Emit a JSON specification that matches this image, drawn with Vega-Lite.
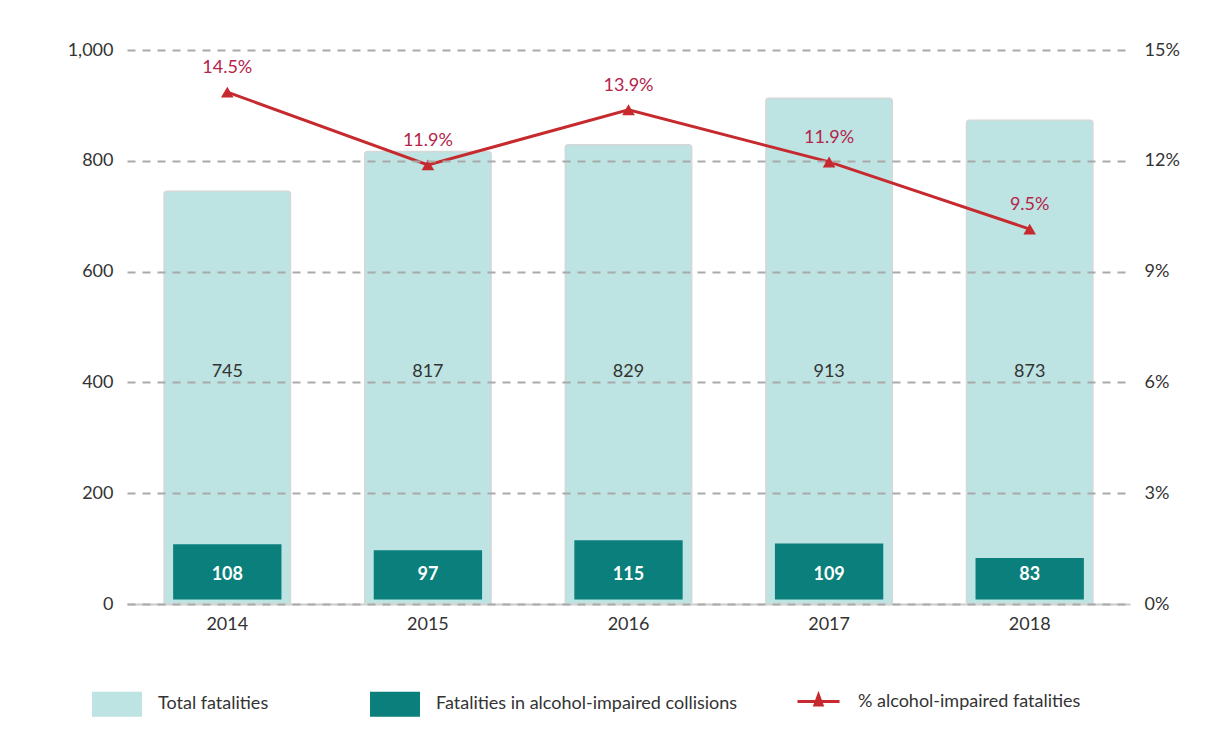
{
  "$schema": "https://vega.github.io/schema/vega-lite/v6.json",
  "width": 1003,
  "height": 554,
  "autosize": {"type": "none"},
  "padding": {"left": 127, "top": 50, "right": 76, "bottom": 136},
  "background": "white",
  "config": {
    "font": "Lato",
    "view": {"stroke": null},
    "axis": {"labelFont": "Lato", "labelFontSize": 18, "labelFontWeight": "normal", "labelColor": "#333333", "title": null}
  },
  "data": {
    "values": [
      {"year": "2014", "total": 745, "alcohol": 108, "pct": 13.86, "pctLabel": "14.5%"},
      {"year": "2015", "total": 817, "alcohol": 97, "pct": 11.89, "pctLabel": "11.9%"},
      {"year": "2016", "total": 829, "alcohol": 115, "pct": 13.38, "pctLabel": "13.9%"},
      {"year": "2017", "total": 913, "alcohol": 109, "pct": 11.97, "pctLabel": "11.9%"},
      {"year": "2018", "total": 873, "alcohol": 83, "pct": 10.15, "pctLabel": "9.5%"}
    ]
  },
  "encoding": {
    "x": {
      "field": "year",
      "type": "ordinal",
      "scale": {"paddingInner": 0, "paddingOuter": 0},
      "axis": {
        "labelAngle": 0,
        "labelPadding": 11,
        "ticks": false,
        "domain": true,
        "domainColor": "#cccccc",
        "domainWidth": 2
      }
    }
  },
  "layer": [
    {
      "layer": [
        {
          "mark": {"type": "bar", "width": {"band": 0.63}, "cornerRadiusTopLeft": 3, "cornerRadiusTopRight": 3, "stroke": "#d3d8d8", "strokeWidth": 1.5},
          "encoding": {
            "y": {
              "field": "total",
              "type": "quantitative",
              "scale": {"domain": [0, 1000]},
              "axis": {
                "orient": "left",
                "values": [0, 200, 400, 600, 800, 1000],
                "format": ",.0f",
                "grid": true,
                "gridDash": [8, 7],
                "gridColor": "#aaaaaa",
                "gridWidth": 2,
                "domain": false,
                "ticks": false,
                "labelPadding": 14,
                "zindex": 1
              }
            },
            "fill": {
              "datum": "Total fatalities",
              "scale": {
                "domain": ["Total fatalities", "Fatalities in alcohol-impaired collisions"],
                "range": ["#BDE3E2", "#0A7F7B"]
              },
              "legend": {
                "title": null,
                "orient": "none",
                "direction": "horizontal",
                "legendX": -35,
                "legendY": 629,
                "symbolType": "M-1,-0.5H1V0.5H-1Z",
                "symbolSize": 2500,
                "symbolStrokeWidth": 0,
                "labelFontSize": 18,
                "labelColor": "#333333",
                "labelLimit": 500,
                "labelOffset": 16,
                "columnPadding": 101
              }
            }
          }
        },
        {
          "mark": {"type": "bar", "width": {"band": 0.54}},
          "encoding": {
            "y": {"field": "alcohol", "type": "quantitative"},
            "y2": {"datum": 8},
            "fill": {"datum": "Fatalities in alcohol-impaired collisions"}
          }
        },
        {
          "mark": {"type": "text", "fontSize": 18, "color": "#333333", "baseline": "middle"},
          "encoding": {
            "y": {"datum": 418},
            "text": {"field": "total", "type": "quantitative"}
          }
        },
        {
          "mark": {"type": "text", "fontSize": 18, "fontWeight": "bold", "color": "white", "baseline": "middle"},
          "encoding": {
            "y": {"datum": 52},
            "text": {"field": "alcohol", "type": "quantitative"}
          }
        }
      ]
    },
    {
      "encoding": {
        "y": {
          "field": "pct",
          "type": "quantitative",
          "scale": {"domain": [0, 15]},
          "axis": {
            "orient": "right",
            "values": [0, 3, 6, 9, 12, 15],
            "labelExpr": "datum.value + '%'",
            "grid": false,
            "domain": false,
            "ticks": false,
            "labelPadding": 14
          }
        }
      },
      "layer": [
        {
          "mark": {"type": "line", "strokeWidth": 3},
          "encoding": {
            "stroke": {
              "datum": "% alcohol-impaired fatalities",
              "scale": {"range": ["#C62A2F"]},
              "legend": {
                "title": null,
                "orient": "none",
                "legendX": 669,
                "legendY": 629,
                "symbolType": "M-1,0H1M-0.17,0.17L0,-0.3L0.17,0.17Z",
                "symbolSize": 1764,
                "symbolStrokeWidth": 3,
                "labelFontSize": 18,
                "labelColor": "#333333",
                "labelLimit": 500,
                "labelOffset": 17,
                "encode": {"symbols": {"update": {"fill": {"value": "#C62A2F"}, "stroke": {"value": "#C62A2F"}}}}
              }
            }
          }
        },
        {
          "mark": {"type": "point", "shape": "triangle-up", "filled": true, "size": 160, "color": "#C62A2F", "opacity": 1},
          "encoding": {}
        },
        {
          "mark": {"type": "text", "fontSize": 18, "color": "#B5234A", "dy": -24, "baseline": "middle"},
          "encoding": {"text": {"field": "pctLabel"}}
        }
      ]
    }
  ],
  "resolve": {"scale": {"y": "independent"}}
}
